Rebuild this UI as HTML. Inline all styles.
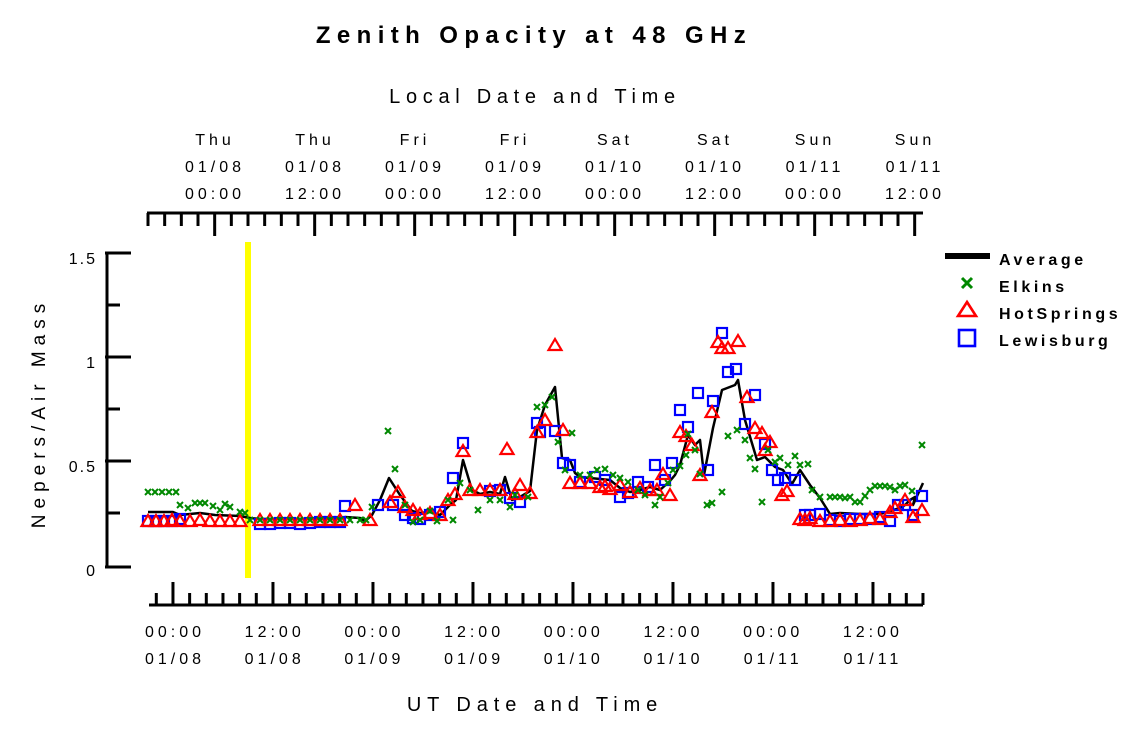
<!DOCTYPE html>
<html><head><meta charset="utf-8"><style>
html,body{margin:0;padding:0;background:#fff;}
svg{display:block;font-family:"Liberation Sans",sans-serif;}
</style></head><body>
<svg id="s" width="1125" height="731" viewBox="0 0 1125 731" xmlns="http://www.w3.org/2000/svg">
<defs>
<g id="tri"><polygon points="0,-6 6.5,5 -6.5,5" fill="none" stroke="#f00" stroke-width="2.2"/></g>
<g id="sq"><rect x="-5" y="-5" width="10" height="10" fill="none" stroke="#00f" stroke-width="2.2"/></g>
<g id="xx"><path d="M-3,-3L3,3M3,-3L-3,3" stroke="#080" stroke-width="2"/></g>
<g id="xl"><path d="M-5,-5L5,5M5,-5L-5,5" stroke="#080" stroke-width="3"/></g>
<g id="tl"><polygon points="0,-8 9,6 -9,6" fill="none" stroke="#f00" stroke-width="2.6"/></g>
<g id="sl"><rect x="-8" y="-8" width="16" height="16" fill="none" stroke="#00f" stroke-width="2.6"/></g>
</defs>
<text x="534" y="43" text-anchor="middle" font-size="24" font-weight="bold" letter-spacing="6.4">Zenith Opacity at 48 GHz</text>
<text x="535" y="103" text-anchor="middle" font-size="20" letter-spacing="5.7">Local Date and Time</text>
<text x="535" y="711" text-anchor="middle" font-size="20" letter-spacing="5.9">UT Date and Time</text>
<text transform="translate(45,413) rotate(-90)" text-anchor="middle" font-size="19" letter-spacing="6">Nepers/Air Mass</text>
<g font-size="16" text-anchor="end" letter-spacing="2">
<text x="97" y="264">1.5</text><text x="97" y="368">1</text><text x="97" y="472">0.5</text><text x="97" y="576">0</text>
</g>
<rect x="245" y="242" width="6" height="336" fill="#ffff00"/>
<g id="axes" stroke="#000" stroke-width="3" fill="none"></g>
<g id="lbl" font-size="16" text-anchor="middle" letter-spacing="4"></g>
<polyline id="avg" fill="none" stroke="#000" stroke-width="2.5" stroke-linejoin="round"/>
<g id="pts"></g>
<rect x="945" y="253" width="45" height="6" fill="#000"/>
<use href="#xl" x="967" y="283"/>
<use href="#tl" x="967" y="310"/>
<use href="#sl" x="967" y="338"/>
<g font-size="16" font-weight="bold" letter-spacing="3.6">
<text x="999" y="265">Average</text><text x="999" y="292">Elkins</text><text x="999" y="319">HotSprings</text><text x="999" y="346">Lewisburg</text>
</g>
</svg>
<script>
var NS="http://www.w3.org/2000/svg",ax=document.getElementById('axes'),lb=document.getElementById('lbl');
function L(x1,y1,x2,y2){var l=document.createElementNS(NS,'line');l.setAttribute('x1',x1);l.setAttribute('y1',y1);l.setAttribute('x2',x2);l.setAttribute('y2',y2);ax.appendChild(l);}
function T(x,y,s){var t=document.createElementNS(NS,'text');t.setAttribute('x',x+2);t.setAttribute('y',y);t.textContent=s;lb.appendChild(t);}
L(147,213,923,213);
for(var i=0;;i++){var x=148+i*100/6;if(x>923)break;var maj=Math.abs(((x-213)/100)-Math.round((x-213)/100))<0.05;L(x,213,x,maj?236:226);}
var tl=[["Thu","01/08","00:00"],["Thu","01/08","12:00"],["Fri","01/09","00:00"],["Fri","01/09","12:00"],["Sat","01/10","00:00"],["Sat","01/10","12:00"],["Sun","01/11","00:00"],["Sun","01/11","12:00"]];
for(var i=0;i<8;i++){var x=213+i*100;T(x,145,tl[i][0]);T(x,172,tl[i][1]);T(x,199,tl[i][2]);}
L(149,605,923,605);
for(var i=0;;i++){var x=156.3+i*100/6;if(x>923)break;var maj=Math.abs(((x-173)/100)-Math.round((x-173)/100))<0.05;L(x,605,x,maj?582:593);}
var bl=[["00:00","01/08"],["12:00","01/08"],["00:00","01/09"],["12:00","01/09"],["00:00","01/10"],["12:00","01/10"],["00:00","01/11"],["12:00","01/11"]];
for(var i=0;i<8;i++){var x=173+i*99.7;T(x,637,bl[i][0]);T(x,664,bl[i][1]);}
L(107,253,107,567);L(105,253,131,253);L(105,357,131,357);L(105,461,131,461);L(105,567,131,567);
L(107,305,120,305);L(107,409,120,409);L(107,513,120,513);
var avg=[148,512,173,512,180,515,190,514,200,513,215,515,240,516,250,518,260,519,340,519,345,517,360,518,365,521,372,515,380,500,389,478,400,495,412,511,420,513,430,512,440,515,450,505,456,500,463,460,472,490,480,494,490,492,500,494,505,477,512,500,520,497,530,491,537,430,545,405,555,387,562,458,570,460,575,473,580,477,590,478,610,480,620,488,630,492,640,490,650,487,660,490,670,481,675,475,680,465,688,435,695,445,700,440,704,475,713,428,722,390,735,385,738,380,745,420,757,460,765,457,775,467,783,470,792,484,800,470,810,485,820,498,830,514,840,513,860,514,880,514,900,508,905,505,910,500,915,497,913,505,923,483];
var p=[];for(var i=0;i<avg.length;i+=2)p.push(avg[i]+','+avg[i+1]);document.getElementById('avg').setAttribute('points',p.join(' '));
var pts=document.getElementById('pts');
function U(id,x,y){var u=document.createElementNS(NS,'use');u.setAttribute('href','#'+id);u.setAttribute('x',x);u.setAttribute('y',y);pts.appendChild(u);}
var sq=[[148,521],[156,521],[164,521],[172,521],[180,519],[260,524],[270,524],[280,523],[290,523],[300,524],[310,523],[320,522],[330,522],[340,522],[345,506],[378,505],[393,505],[405,515],[413,518],[420,519],[430,515],[440,512],[453,478],[463,443],[490,491],[500,490],[510,498],[520,502],[537,423],[540,432],[555,431],[563,463],[570,465],[580,482],[595,477],[605,480],[620,497],[628,493],[638,482],[648,487],[655,465],[665,480],[672,463],[680,410],[688,427],[698,393],[708,470],[713,401],[722,333],[728,372],[736,369],[745,424],[755,395],[765,444],[772,470],[778,480],[785,478],[795,480],[805,515],[810,515],[820,514],[830,520],[840,521],[850,519],[860,519],[870,519],[880,517],[890,521],[898,505],[905,505],[913,515],[922,496]];
sq.forEach(function(a){U('sq',a[0],a[1]);});
var tr=[[148,521],[156,521],[164,521],[172,520],[180,521],[190,521],[200,520],[210,521],[220,521],[230,521],[240,521],[260,520],[270,520],[280,520],[290,520],[300,520],[310,520],[320,520],[330,520],[340,520],[355,505],[370,520],[390,502],[398,492],[405,507],[413,510],[420,514],[430,513],[440,515],[448,500],[455,494],[463,451],[470,490],[480,490],[490,490],[500,490],[507,449],[515,494],[520,485],[530,493],[537,432],[545,420],[555,345],[563,430],[570,483],[580,483],[590,483],[600,487],[605,486],[610,489],[620,485],[630,492],[640,488],[650,490],[657,490],[663,474],[670,495],[680,432],[686,436],[692,445],[700,475],[712,412],[718,342],[722,348],[728,348],[738,341],[747,397],[755,428],[762,433],[765,450],[770,442],[782,495],[787,491],[800,519],[805,520],[810,518],[820,521],[830,521],[840,520],[850,521],[860,520],[870,518],[880,519],[890,512],[895,508],[905,500],[913,517],[922,510]];
tr.forEach(function(a){U('tri',a[0],a[1]);});
var ex=[[148,492],[155,492],[162,492],[169,492],[176,492],[180,505],[188,508],[195,503],[200,503],[205,503],[213,506],[220,510],[225,504],[230,507],[240,512],[245,513],[250,520],[260,520],[270,520],[280,520],[290,520],[300,520],[310,520],[320,520],[330,520],[340,520],[350,520],[360,520],[366,520],[372,507],[388,431],[395,469],[405,505],[413,522],[420,520],[430,511],[437,521],[448,500],[453,520],[460,483],[470,490],[478,510],[490,500],[500,500],[510,507],[515,495],[528,497],[537,407],[545,405],[552,397],[558,442],[565,470],[572,433],[580,475],[590,475],[597,470],[605,469],[613,475],[620,478],[628,482],[638,490],[645,495],[655,505],[660,497],[668,483],[673,470],[680,466],[686,455],[688,434],[695,450],[700,474],[707,505],[712,503],[722,492],[728,436],[737,430],[745,440],[750,458],[755,469],[762,502],[768,450],[775,462],[780,458],[788,465],[795,456],[800,465],[808,464],[812,490],[820,497],[830,497],[835,497],[840,497],[845,498],[850,497],[855,502],[860,502],[865,496],[870,490],[875,486],[880,486],[885,486],[890,487],[895,490],[900,486],[905,485],[912,491],[922,445]];
ex.forEach(function(a){U('xx',a[0],a[1]);});
</script>
</body></html>
